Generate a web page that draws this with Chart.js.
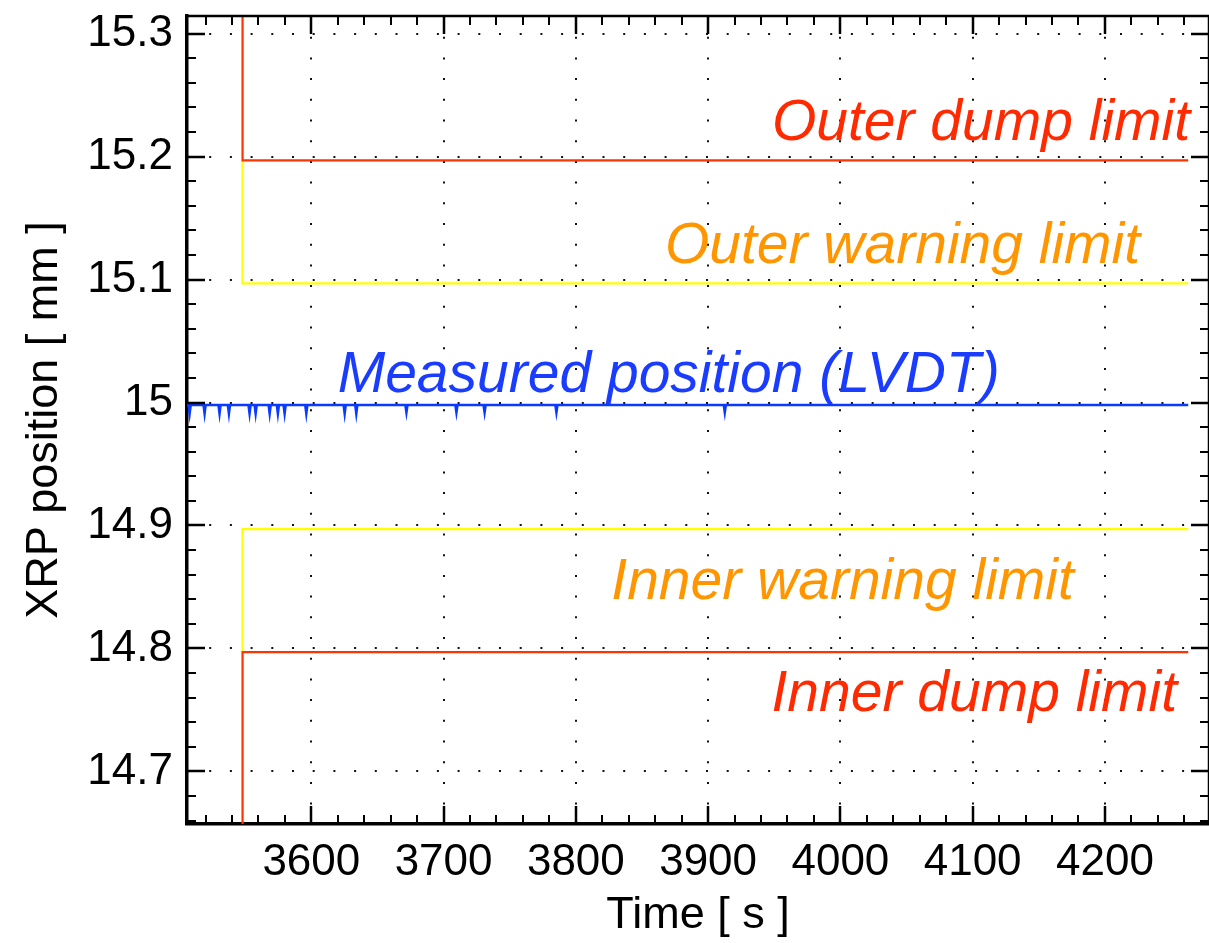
<!DOCTYPE html>
<html>
<head>
<meta charset="utf-8">
<script src="https://cdn.jsdelivr.net/npm/chart.js@4.4.1/dist/chart.umd.min.js"></script>
<style>
  html, body { margin: 0; padding: 0; background: #fff; overflow: hidden; }
  #wrap { width: 1209px; height: 943px; position: relative; }
</style>
</head>
<body>
<div id="wrap"><canvas id="xrp_chart"></canvas></div>
<script>
// tick values
const xTicks = [3600, 3700, 3800, 3900, 4000, 4100, 4200];
const yTicks = [14.7, 14.8, 14.9, 15.0, 15.1, 15.2, 15.3];

// limits, switched on at t ~ 3548 s
const limitTime = [3548, 3548, 4263];
const outerDump = [15.40, 15.197, 15.197];
const outerWarning = [15.197, 15.097, 15.097];
const innerWarning = [14.797, 14.897, 14.897];
const innerDump = [14.60, 14.797, 14.797];

// LVDT reading (flat with small downward glitches)
const measuredTime = [3506,
  3507.2, 3508.0, 3508.8,  3518.5, 3519.3, 3520.1,  3529.8, 3530.6, 3531.4,
  3536.9, 3537.7, 3538.5,  3552.5, 3553.3, 3554.1,  3557.1, 3557.9, 3558.7,
  3567.7, 3568.5, 3569.3,  3573.9, 3574.7, 3575.5,  3579.0, 3579.8, 3580.6,
  3595.4, 3596.2, 3597.0,  3624.4, 3625.2, 3626.0,  3633.2, 3634.0, 3634.8,
  3671.1, 3671.9, 3672.7,  3708.9, 3709.7, 3710.5,  3730.2, 3731.0, 3731.8,
  3784.5, 3785.3, 3786.1,  3911.8, 3912.6, 3913.4,
  4263];
const measuredPos = [14.998,
  14.998, 14.991, 14.998,  14.998, 14.991, 14.998,  14.998, 14.991, 14.998,
  14.998, 14.991, 14.998,  14.998, 14.991, 14.998,  14.998, 14.991, 14.998,
  14.998, 14.991, 14.998,  14.998, 14.991, 14.998,  14.998, 14.991, 14.998,
  14.998, 14.991, 14.998,  14.998, 14.991, 14.998,  14.998, 14.991, 14.998,
  14.998, 14.992, 14.998,  14.998, 14.992, 14.998,  14.998, 14.992, 14.998,
  14.998, 14.992, 14.998,  14.998, 14.992, 14.998,
  14.998];

// text labels on the plot (anchor in data units)
const noteText = ['Outer dump limit', 'Outer warning limit', 'Measured position (LVDT)', 'Inner warning limit', 'Inner dump limit'];
const noteTime = [4264.4, 4226.6, 3619.9, 3826.8, 4254.5];
const notePos = [15.2132, 15.1131, 15.0084, 14.8405, 14.7494];
const noteAlign = ['right', 'right', 'left', 'left', 'right'];
const noteColor = ['#ff2a00', '#ff9600', '#1a3cff', '#ff9600', '#ff2a00'];

const FONT = "'Liberation Sans', Arial, Helvetica, sans-serif";

const toPoints = (xs, ys) => xs.map((x, i) => ({ x: x, y: ys[i] }));

// inward ticks on all four sides + top/right frame
const frameTicks = {
    id: 'frameTicks',
    afterDraw(chart) {
        const { ctx, chartArea: a, scales: { x, y } } = chart;
        ctx.save();
        ctx.strokeStyle = '#000';
        // frame top / right
        ctx.lineWidth = 2.5;
        ctx.beginPath();
        ctx.moveTo(a.left, a.top);
        ctx.lineTo(a.right, a.top);
        ctx.lineTo(a.right, a.bottom);
        ctx.stroke();

        const tick = (major) => {
            ctx.lineWidth = major ? 2.5 : 2;
            return major ? 18 : 9;
        };
        // x ticks every 20 s
        for (let t = 3520; t <= 4270; t += 20) {
            const major = t % 100 === 0;
            const len = tick(major);
            const px = Math.round(x.getPixelForValue(t));
            ctx.beginPath();
            ctx.moveTo(px, a.bottom); ctx.lineTo(px, a.bottom - len);
            ctx.moveTo(px, a.top); ctx.lineTo(px, a.top + len);
            ctx.stroke();
        }
        // y ticks every 0.02 mm
        for (let k = 733; k <= 765; k++) {
            const v = k / 50;
            const major = k % 5 === 0;
            const len = tick(major);
            const py = Math.round(y.getPixelForValue(v));
            ctx.beginPath();
            ctx.moveTo(a.left, py); ctx.lineTo(a.left + len, py);
            ctx.moveTo(a.right, py); ctx.lineTo(a.right - len, py);
            ctx.stroke();
        }
        ctx.restore();
    }
};

const plotNotes = {
    id: 'plotNotes',
    afterDatasetsDraw(chart) {
        const { ctx, scales: { x, y } } = chart;
        ctx.save();
        ctx.font = 'italic 57px ' + FONT;
        ctx.textBaseline = 'alphabetic';
        noteText.forEach((txt, i) => {
            ctx.fillStyle = noteColor[i];
            ctx.textAlign = noteAlign[i];
            ctx.fillText(txt, x.getPixelForValue(noteTime[i]), y.getPixelForValue(notePos[i]));
        });
        ctx.restore();
    }
};

const ctx = document.getElementById('xrp_chart').getContext('2d');

const xrpChart = new Chart(ctx, {
    type: 'line',
    data: {
        datasets: [
            { label: 'Measured position (LVDT)', data: toPoints(measuredTime, measuredPos), borderColor: '#0a3aff', borderWidth: 2.5 },
            { label: 'Outer dump limit', data: toPoints(limitTime, outerDump), borderColor: '#ff3300', borderWidth: 2.2 },
            { label: 'Inner dump limit', data: toPoints(limitTime, innerDump), borderColor: '#ff3300', borderWidth: 2.2 },
            { label: 'Outer warning limit', data: toPoints(limitTime, outerWarning), borderColor: '#ffff00', borderWidth: 2.2 },
            { label: 'Inner warning limit', data: toPoints(limitTime, innerWarning), borderColor: '#ffff00', borderWidth: 2.2 }
        ]
    },
    options: {
        responsive: true,
        maintainAspectRatio: false,
        animation: false,
        layout: { padding: { top: 16, right: 0, left: 0, bottom: 0 } },
        elements: {
            point: { radius: 0, hoverRadius: 0 },
            line: { tension: 0, fill: false }
        },
        scales: {
            x: {
                type: 'linear',
                min: 3506,
                max: 4278.7,
                afterBuildTicks: (s) => { s.ticks = xTicks.map(v => ({ value: v })); },
                afterFit: (s) => { s.height = 119; s.paddingLeft = 0; s.paddingRight = 0; },
                ticks: {
                    color: '#000',
                    font: { family: FONT, size: 44 },
                    padding: 12,
                    maxRotation: 0,
                    callback: (v) => String(v)
                },
                grid: { color: '#111', lineWidth: 2, drawTicks: false },
                border: { display: true, color: '#000', width: 3.5, dash: [2, 18.7] },
                title: {
                    display: true,
                    text: 'Time [ s ]',
                    color: '#000',
                    font: { family: FONT, size: 45 },
                    padding: { top: 0, bottom: 0 }
                }
            },
            y: {
                type: 'linear',
                min: 14.6572,
                max: 15.3144,
                afterBuildTicks: (s) => { s.ticks = yTicks.map(v => ({ value: v })); },
                afterFit: (s) => { s.width = 187; s.paddingTop = 0; s.paddingBottom = 0; },
                ticks: {
                    color: '#000',
                    font: { family: FONT, size: 44 },
                    padding: 14,
                    callback: (v) => String(Number(v.toFixed(2)))
                },
                grid: { color: '#111', lineWidth: 2, drawTicks: false },
                border: { display: true, color: '#000', width: 3.5, dash: [2, 18.7] },
                title: {
                    display: true,
                    text: 'XRP position [ mm ]',
                    color: '#000',
                    font: { family: FONT, size: 45 },
                    padding: { top: 18, bottom: 0 }
                }
            }
        },
        plugins: {
            legend: { display: false },
            tooltip: { enabled: false }
        }
    },
    plugins: [plotNotes, frameTicks]
});
</script>
</body>
</html>
